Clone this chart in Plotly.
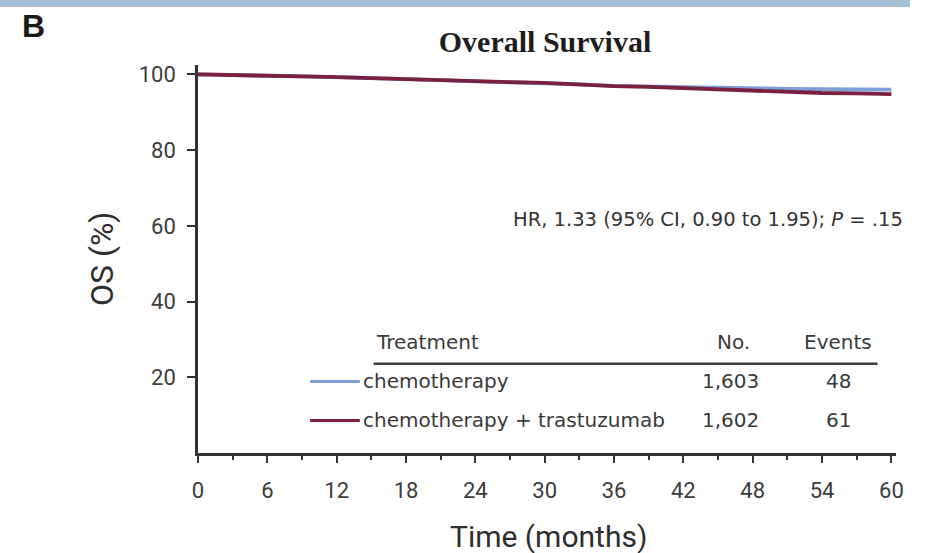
import plotly.graph_objects as go

# Kaplan-Meier overall survival estimates (%), read at 3-month intervals
months = [0, 3, 6, 9, 12, 15, 18, 21, 24, 27, 30, 33, 36, 39, 42, 45, 48, 51, 54, 57, 60]
os_chemo = [100, 99.9, 99.7, 99.5, 99.3, 99.1, 98.8, 98.5, 98.2, 98.0, 97.8,
            97.4, 97.0, 96.8, 96.6, 96.4, 96.3, 96.2, 96.1, 96.0, 96.0]
os_chemo_tras = [100, 99.9, 99.7, 99.5, 99.3, 99.0, 98.8, 98.5, 98.2, 98.0, 97.8,
                 97.3, 96.9, 96.7, 96.4, 96.0, 95.6, 95.3, 95.1, 95.0, 94.8]

arm_names = ["chemotherapy", "chemotherapy + trastuzumab"]
arm_n = ["1,603", "1,602"]
arm_events = ["48", "61"]
arm_colors = ["#7d9fd8", "#7a2141"]

x_ticks = list(range(0, 61, 6))
y_ticks = [20, 40, 60, 80, 100]

hr_text = "HR, 1.33 (95% CI, 0.90 to 1.95); <i>P</i> = .15"

# plot-area geometry in pixels (used to place free text in paper units)
W, H = 928, 553
ML, MR, MT, MB = 198, 32, 65, 100
PW, PH = W - ML - MR, H - MT - MB


def px(x):
    return (x - ML) / PW


def py(y):
    return (H - MB - y) / PH


AXFONT = "Roboto, Liberation Sans, sans-serif"
TABFONT = "DejaVu Sans, Liberation Sans, sans-serif"
INK = "#333333"

fig = go.Figure()
for ys, name, col in zip([os_chemo, os_chemo_tras], arm_names, arm_colors):
    fig.add_trace(go.Scatter(x=months, y=ys, mode="lines", name=name,
                             line=dict(color=col, width=3.8), showlegend=False,
                             hoverinfo="skip"))

fig.update_xaxes(range=[0, 60.4], tickvals=x_ticks, ticks="outside", ticklen=7,
                 tickwidth=2, tickcolor=INK, showline=True, linecolor=INK, linewidth=2.5,
                 showgrid=False, zeroline=False, ticklabelstandoff=9, automargin=False,
                 tickfont=dict(family=AXFONT, size=22, color="#3c3c3c"),
                 minor=dict(dtick=3, tick0=0, ticks="outside", ticklen=4,
                            tickwidth=2, tickcolor=INK))
fig.update_yaxes(range=[0, 102.5], tickvals=y_ticks, ticks="outside", ticklen=8,
                 tickwidth=2, tickcolor=INK, showline=True, linecolor=INK, linewidth=2.5,
                 showgrid=False, zeroline=False, ticklabelstandoff=7, automargin=False,
                 tickfont=dict(family=AXFONT, size=22, color="#3c3c3c"))

ann = []
shapes = []

# axis titles
ann.append(dict(x=px(548), y=py(536), xref="paper", yref="paper", text="Time (months)",
                showarrow=False, xanchor="center", yanchor="middle",
                font=dict(family=AXFONT, size=30, color="#2e2e2e")))
ann.append(dict(x=px(102), y=py(259), xref="paper", yref="paper", text="OS (%)",
                showarrow=False, xanchor="center", yanchor="middle", textangle=-90,
                font=dict(family=AXFONT, size=32, color="#2e2e2e")))

# hazard ratio statement
ann.append(dict(x=px(905), y=py(219), xref="paper", yref="paper", text=hr_text,
                showarrow=False, xanchor="right", yanchor="middle",
                font=dict(family=TABFONT, size=19.5, color=INK)))

# risk table inside the plot
tf = dict(family=TABFONT, size=20, color="#3a3a3a")
ann.append(dict(x=15.2, y=29.4, text="Treatment", showarrow=False, xanchor="left",
                yanchor="middle", font=tf))
ann.append(dict(x=46.3, y=29.4, text="No.", showarrow=False, xanchor="center",
                yanchor="middle", font=tf))
ann.append(dict(x=55.4, y=29.4, text="Events", showarrow=False, xanchor="center",
                yanchor="middle", font=tf))
shapes.append(dict(type="line", x0=15.2, x1=58.8, y0=23.6, y1=23.6, xref="x", yref="y",
                   line=dict(color="#3a3a3a", width=2.5)))
row_y = [18.9, 8.6]
for yy, name, n, ev, col in zip(row_y, arm_names, arm_n, arm_events, arm_colors):
    shapes.append(dict(type="line", x0=9.7, x1=14.0, y0=yy, y1=yy, xref="x", yref="y",
                       line=dict(color=col, width=3)))
    ann.append(dict(x=14.1, y=yy, text=name, showarrow=False, xanchor="left",
                    yanchor="middle", font=tf))
    ann.append(dict(x=48.7, y=yy, text=n, showarrow=False, xanchor="right",
                    yanchor="middle", font=tf))
    ann.append(dict(x=55.4, y=yy, text=ev, showarrow=False, xanchor="center",
                    yanchor="middle", font=tf))

# panel letter
ann.append(dict(x=px(20), y=py(26), xref="paper", yref="paper", text="<b>B</b>",
                showarrow=False, xanchor="left", yanchor="middle",
                font=dict(family="Liberation Sans, Arial, sans-serif", size=32,
                          color="#1a1a1a")))

# thin band across the top of the panel
shapes.append(dict(type="rect", xref="paper", yref="paper",
                   x0=px(0), x1=px(910), y0=py(7), y1=py(0),
                   fillcolor="#a6c2d2", line=dict(width=0), layer="above"))

fig.update_layout(
    width=W, height=H, autosize=False,
    margin=dict(l=ML, r=MR, t=MT, b=MB),
    paper_bgcolor="white", plot_bgcolor="white",
    annotations=ann, shapes=shapes,
    title=dict(text="<b>Overall Survival</b>", x=545 / W, xanchor="center",
               y=1 - 41 / H, yanchor="middle", automargin=False,
               font=dict(family="Liberation Serif, DejaVu Serif, serif", size=30,
                         color="#1e1e1e")),
)

fig.write_html("out.html")
